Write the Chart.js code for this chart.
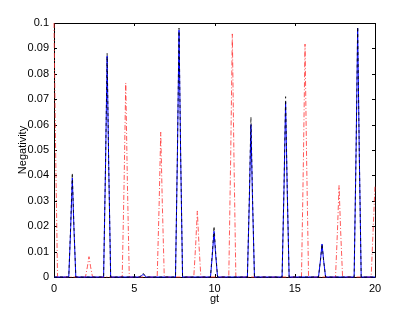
<!DOCTYPE html>
<html>
<head>
<meta charset="utf-8">
<script src="https://cdn.jsdelivr.net/npm/chart.js@4/dist/chart.umd.min.js"></script>
<style>
html,body{margin:0;padding:0;background:#fff;}
#c{display:block;}
</style>
</head>
<body>
<canvas id="c" width="415" height="312"></canvas>
<script>
// x positions shared by the black and blue series (gt)
const gtPeaks = [0, 0.92,1.04,1.14,1.24,1.36, 3.09,3.21,3.31,3.41,3.53, 5.33,5.45,5.55,5.65,5.77, 7.57,7.69,7.79,7.89,8.01, 9.75,9.87,9.97,10.07,10.19, 12.05,12.17,12.27,12.37,12.49, 14.21,14.33,14.43,14.53,14.65, 16.48,16.60,16.70,16.80,16.92, 18.70,18.82,18.92,19.02,19.14, 20];
const blackNeg = [0, 0,0.0205,0.041,0.0205,0, 0,0.044,0.088,0.044,0, 0,0.0008,0.0015,0.0008,0, 0,0.049,0.098,0.049,0, 0,0.010,0.020,0.010,0, 0,0.0315,0.063,0.0315,0, 0,0.0355,0.071,0.0355,0, 0,0.0065,0.013,0.0065,0, 0,0.049,0.0985,0.049,0, 0];
const blueNeg = [0, 0,0.0195,0.039,0.0195,0, 0,0.0435,0.087,0.0435,0, 0,0.0005,0.001,0.0005,0, 0,0.0486,0.0972,0.0486,0, 0,0.009,0.018,0.009,0, 0,0.030,0.060,0.030,0, 0,0.0345,0.069,0.0345,0, 0,0.0065,0.013,0.0065,0, 0,0.049,0.098,0.049,0, 0];
// red dash-dot series
const redGt = [0,0.1,0.22, 1.96,2.08,2.18,2.28,2.40, 4.25,4.37,4.47,4.57,4.69, 6.43,6.55,6.65,6.75,6.87, 8.71,8.83,8.93,9.03,9.15, 10.89,11.01,11.11,11.21,11.33, 15.42,15.54,15.64,15.74,15.86, 17.54,17.66,17.76,17.86,17.98, 19.76,19.88,20];
const redNeg = [0.1,0.05,0, 0,0.004,0.008,0.004,0, 0,0.038,0.0764,0.038,0, 0,0.0285,0.057,0.0285,0, 0,0.013,0.026,0.013,0, 0,0.048,0.0957,0.048,0, 0,0.046,0.0917,0.046,0, 0,0.018,0.036,0.018,0, 0,0.018,0.036];
const xTicks = [0,5,10,15,20];
const yTicks = [0,0.01,0.02,0.03,0.04,0.05,0.06,0.07,0.08,0.09,0.1];

function pts(xs, ys){ return xs.map((x,i)=>({x:x, y:ys[i]})); }

const FONT = "'Liberation Sans Narrow','Liberation Sans',Arial,sans-serif";

const boxTicks = {
  id:'boxTicks',
  beforeDatasetsDraw(chart){
    const {ctx, chartArea:a, scales:{x,y}} = chart;
    ctx.save();
    ctx.strokeStyle = '#000';
    ctx.lineWidth = 1;
    ctx.beginPath();
    ctx.rect(Math.round(a.left)+0.5, Math.round(a.top)+0.5, Math.round(a.right-a.left), Math.round(a.bottom-a.top));
    const L = 3;
    xTicks.forEach(v=>{
      const px = Math.round(x.getPixelForValue(v))+0.5;
      ctx.moveTo(px, a.bottom); ctx.lineTo(px, a.bottom-L);
      ctx.moveTo(px, a.top); ctx.lineTo(px, a.top+L);
    });
    yTicks.forEach(v=>{
      const py = Math.round(y.getPixelForValue(v))+0.5;
      ctx.moveTo(a.left, py); ctx.lineTo(a.left+L, py);
      ctx.moveTo(a.right, py); ctx.lineTo(a.right-L, py);
    });
    ctx.stroke();
    ctx.restore();
  }
};

new Chart(document.getElementById('c'), {
  type:'line',
  data:{
    datasets:[
      {data:pts(gtPeaks, blackNeg), borderColor:'#000000', borderWidth:0.8, borderDash:[3,3], pointRadius:0, tension:0, order:1, clip:3},
      {data:pts(gtPeaks, blueNeg), borderColor:'#0000ff', borderWidth:1, pointRadius:0, tension:0, order:2, clip:3},
      {data:pts(redGt, redNeg), borderColor:'#ff3030', borderWidth:0.8, borderDash:[5,2,1,2], pointRadius:0, tension:0, order:3, clip:3}
    ]
  },
  options:{
    responsive:false,
    animation:false,
    events:[],
    layout:{padding:{top:23,right:40,left:0,bottom:0}},
    plugins:{legend:{display:false}, tooltip:{enabled:false}},
    scales:{
      x:{
        type:'linear', min:0, max:20,
        afterBuildTicks(s){ s.ticks = xTicks.map(v=>({value:v})); },
        afterFit(s){ s.height = 35; },
        grid:{display:false, drawTicks:false},
        border:{display:false},
        ticks:{color:'#000', padding:5, maxRotation:0, font:{family:FONT, size:11}, callback:(v)=>String(v)},
        title:{display:true, text:'gt', color:'#000', font:{family:"'Liberation Sans',Arial,sans-serif", size:11}, padding:{top:0,bottom:6}}
      },
      y:{
        type:'linear', min:0, max:0.1,
        afterBuildTicks(s){ s.ticks = yTicks.map(v=>({value:v})); },
        afterFit(s){ s.width = 54; },
        grid:{display:false, drawTicks:false},
        border:{display:false},
        ticks:{color:'#000', padding:5, font:{family:FONT, size:11}, callback:(v)=>String(Number(v.toFixed(2)))},
        title:{display:true, text:'Negativity', color:'#000', font:{family:"'Liberation Sans',Arial,sans-serif", size:11}, padding:{top:16,bottom:0}}
      }
    }
  },
  plugins:[boxTicks]
});
</script>
</body>
</html>
